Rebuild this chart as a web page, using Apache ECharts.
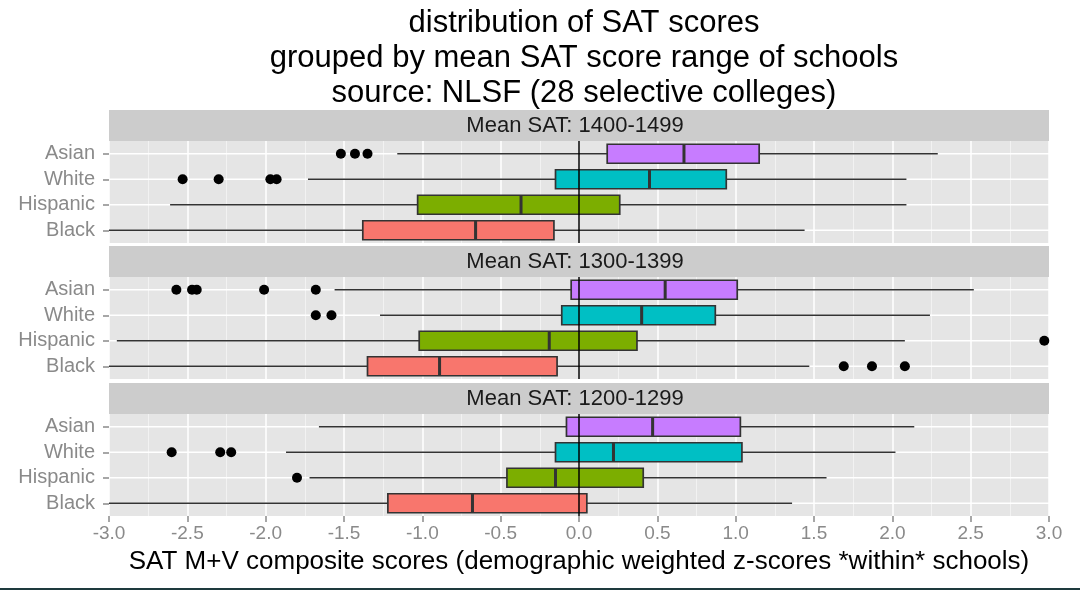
<!DOCTYPE html>
<html>
<head>
<meta charset="utf-8">
<script src="https://cdn.jsdelivr.net/npm/echarts@6/dist/echarts.min.js"></script>
<style>
  html, body { margin: 0; padding: 0; background: #fff; }
  #chart { width: 1080px; height: 590px; }
</style>
</head>
<body>
<div id="chart"></div>
<script>
// groups, bottom to top
const groups = ['Black', 'Hispanic', 'White', 'Asian'];
const groupColors = ['#F8766D', '#7CAE00', '#00BFC4', '#C77CFF'];
const panelTitles = ['Mean SAT: 1400-1499', 'Mean SAT: 1300-1399', 'Mean SAT: 1200-1299'];

// [min, q1, median, q3, max] per group
const boxes1400 = [
  [-3.0, -1.38, -0.66, -0.16, 1.44],
  [-2.61, -1.03, -0.37, 0.26, 2.09],
  [-1.73, -0.15, 0.45, 0.94, 2.09],
  [-1.16, 0.18, 0.67, 1.15, 2.29]
];
const boxes1300 = [
  [-3.0, -1.35, -0.89, -0.14, 1.47],
  [-2.95, -1.02, -0.19, 0.37, 2.08],
  [-1.27, -0.11, 0.40, 0.87, 2.24],
  [-1.56, -0.05, 0.55, 1.01, 2.52]
];
const boxes1200 = [
  [-3.0, -1.22, -0.68, 0.05, 1.36],
  [-1.72, -0.46, -0.15, 0.41, 1.58],
  [-1.87, -0.15, 0.22, 1.04, 2.02],
  [-1.66, -0.08, 0.47, 1.03, 2.14]
];

// [value, group index]
const outliers1400 = [[-2.53, 2], [-2.30, 2], [-1.97, 2], [-1.93, 2], [-1.52, 3], [-1.43, 3], [-1.35, 3]];
const outliers1300 = [[1.69, 0], [1.87, 0], [2.08, 0], [2.97, 1], [-1.68, 2], [-1.58, 2],
  [-2.57, 3], [-2.47, 3], [-2.44, 3], [-2.01, 3], [-1.68, 3]];
const outliers1200 = [[-1.80, 1], [-2.60, 2], [-2.29, 2], [-2.22, 2]];

const panelBoxes = [boxes1400, boxes1300, boxes1200];
const panelOutliers = [outliers1400, outliers1300, outliers1200];

// layout
const plotLeft = 109, plotRight = 31, plotWidth = 1080 - plotLeft - plotRight;
const panelTops = [141, 277, 414];
const panelHeight = 102;
const stripHeight = 31;
const boxHeight = 19;
const labelGrey = '#8A8A8A';
const xMin = -3, xMax = 3;

const chart = echarts.init(document.getElementById('chart'));

const grids = [], xAxes = [], yAxes = [], series = [], graphics = [];

// horizontal line through a group's row, from value(0) to value(1)
const rowLine = (color, width) => (params, api) => {
  const a = api.coord([api.value(0), api.value(2)]);
  const b = api.coord([api.value(1), api.value(2)]);
  return {
    type: 'line',
    shape: { x1: a[0], y1: a[1], x2: b[0], y2: b[1] },
    style: { stroke: color, lineWidth: width }
  };
};

// thick median bar across the box
const medianLine = (params, api) => {
  const c = api.coord([api.value(0), api.value(1)]);
  return {
    type: 'line',
    shape: { x1: c[0], y1: c[1] - boxHeight / 2, x2: c[0], y2: c[1] + boxHeight / 2 },
    style: { stroke: '#333333', lineWidth: 3 }
  };
};

panelTops.forEach((top, i) => {
  const last = i === panelTops.length - 1;
  grids.push({
    left: plotLeft, right: plotRight, top: top, height: panelHeight,
    show: true, backgroundColor: '#E5E5E5', borderWidth: 0
  });
  xAxes.push({
    type: 'value', gridIndex: i, min: xMin, max: xMax, interval: 0.5,
    axisLine: { show: false },
    axisTick: { show: last, length: 6, lineStyle: { color: labelGrey, width: 1.5 } },
    axisLabel: {
      show: last, color: labelGrey, fontSize: 19, margin: 8,
      formatter: v => v.toFixed(1)
    },
    splitLine: { show: true, lineStyle: { color: '#FFFFFF', width: 1.5 } },
    minorTick: { show: false, splitNumber: 2 },
    minorSplitLine: { show: true, lineStyle: { color: '#F2F2F2', width: 1 } },
    name: last ? 'SAT M+V composite scores (demographic weighted z-scores *within* schools)' : '',
    nameLocation: 'middle', nameGap: 33,
    nameTextStyle: { color: '#000', fontSize: 26 }
  });
  yAxes.push({
    type: 'category', gridIndex: i, data: groups,
    axisLine: { show: false, onZero: false },
    axisTick: { show: true, interval: 0, alignWithLabel: true, length: 6, lineStyle: { color: labelGrey, width: 1.5 } },
    axisLabel: { interval: 0, color: labelGrey, fontSize: 20, margin: 14 },
    splitLine: { show: false }
  });

  const boxes = panelBoxes[i];

  // horizontal grid lines through each group
  series.push({
    type: 'custom', xAxisIndex: i, yAxisIndex: i, z: 1, silent: true,
    data: groups.map((g, k) => [xMin, xMax, k]),
    encode: { x: [0, 1], y: 2 },
    renderItem: rowLine('#FFFFFF', 1.5)
  });

  // whiskers
  series.push({
    type: 'custom', xAxisIndex: i, yAxisIndex: i, z: 2, clip: true, silent: true,
    data: boxes.map((b, g) => [b[0], b[4], g]),
    encode: { x: [0, 1], y: 2 },
    renderItem: rowLine('#333333', 1.7)
  });

  // boxes (whiskers drawn separately, so ends collapse onto the hinges)
  series.push({
    type: 'boxplot', xAxisIndex: i, yAxisIndex: i, z: 3,
    boxWidth: [boxHeight, boxHeight],
    data: boxes.map((b, g) => ({
      value: [b[1], b[1], b[2], b[3], b[3]],
      itemStyle: { color: groupColors[g], borderColor: '#333333', borderWidth: 1.7 }
    })),
    emphasis: { disabled: true }
  });

  // medians
  series.push({
    type: 'custom', xAxisIndex: i, yAxisIndex: i, z: 4, silent: true,
    data: boxes.map((b, g) => [b[2], g]),
    encode: { x: 0, y: 1 },
    renderItem: medianLine
  });

  // outliers + zero line
  series.push({
    type: 'scatter', xAxisIndex: i, yAxisIndex: i, z: 5,
    symbolSize: 10,
    itemStyle: { color: '#000', opacity: 1 },
    data: panelOutliers[i],
    markLine: {
      silent: true, symbol: 'none', z: 6, label: { show: false },
      lineStyle: { color: '#000', width: 1.5, type: 'solid' },
      data: [{ xAxis: 0 }]
    }
  });

  // facet strip
  graphics.push({
    type: 'rect',
    shape: { x: plotLeft, y: top - stripHeight, width: plotWidth, height: stripHeight },
    style: { fill: '#CCCCCC' }, silent: true
  });
  graphics.push({
    type: 'text',
    x: plotLeft + plotWidth / 2 - 4, y: top - stripHeight / 2,
    style: {
      text: panelTitles[i], fill: '#1A1A1A', fontSize: 22,
      align: 'center', verticalAlign: 'middle'
    },
    silent: true
  });
});

// thin dark frame edge along the bottom of the picture
graphics.push({
  type: 'rect', left: 0, bottom: 0,
  shape: { width: 1080, height: 2 },
  style: { fill: '#1E3A3E' }, silent: true
});

chart.setOption({
  backgroundColor: '#FFFFFF',
  animation: false,
  textStyle: { fontFamily: 'Liberation Sans, Arial, sans-serif' },
  title: {
    text: 'distribution of SAT scores\ngrouped by mean SAT score range of schools\nsource: NLSF (28 selective colleges)',
    left: plotLeft + plotWidth / 2, top: 1,
    textAlign: 'center',
    textStyle: { fontSize: 31, fontWeight: 'normal', color: '#000', lineHeight: 35 }
  },
  grid: grids,
  xAxis: xAxes,
  yAxis: yAxes,
  graphic: graphics,
  series: series
});
</script>
</body>
</html>
